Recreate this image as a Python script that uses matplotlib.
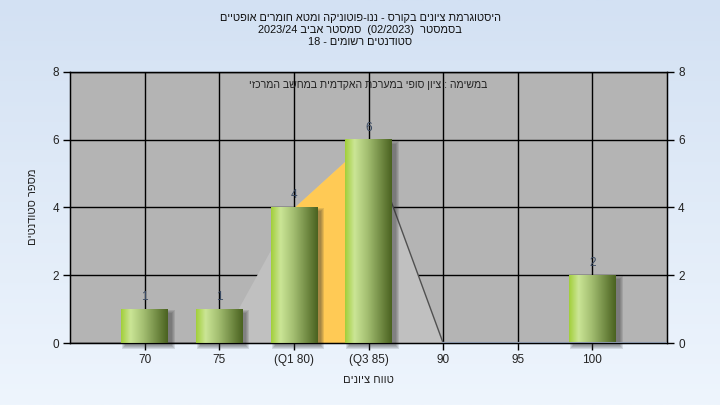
import numpy as np
import matplotlib
matplotlib.use('Agg')
import matplotlib.pyplot as plt
from matplotlib.patches import Rectangle
from matplotlib.colors import LinearSegmentedColormap

# ---------------- data ----------------
categories = ['70', '75', '(Q1 80)', '(Q3 85)', '90', '95', '100']
counts = [1, 1, 4, 6, 0, 0, 2]
# frequency-polygon area drawn behind the bars (nan = not drawn)
area_values = [np.nan, 0, 4, 6, 0, np.nan, np.nan]
q1_index = 2
q3_index = 3
y_ticks = [0, 2, 4, 6, 8]

title_lines = [
    'היסטוגרמת ציונים בקורס - ננו-פוטוניקה ומטא חומרים אופטיים'[::-1],
    '2023/24 ' + 'סמסטר אביב'[::-1] + '  (02/2023)  ' + 'בסמסטר'[::-1],
    '18 - ' + 'סטודנטים רשומים'[::-1],
]
inner_text = 'במשימה : ציון סופי במערכת האקדמית במחשב המרכזי'
y_label = 'מספר סטודנטים'
x_label = 'טווח ציונים'

FAM = ['Liberation Sans', 'DejaVu Sans']
plt.rcParams['font.family'] = FAM

W, H = 720, 405
fig = plt.figure(figsize=(W / 100, H / 100), dpi=100)

# background gradient
bg = fig.add_axes([0, 0, 1, 1], zorder=-10)
grad = np.linspace(0, 1, 256).reshape(-1, 1)
bg_cmap = LinearSegmentedColormap.from_list('bg', ['#d3e1f3', '#eef5fd'])
bg.imshow(grad, aspect='auto', cmap=bg_cmap, extent=[0, 1, 0, 1], origin='upper')
bg.set_axis_off()

ax_l, ax_r, ax_t, ax_b = 70, 667, 72, 343
ax = fig.add_axes([ax_l / W, 1 - ax_b / H, (ax_r - ax_l) / W, (ax_b - ax_t) / H])
ax.set_facecolor('#b4b4b4')
xlim = (-1.0, 7.0)
ylim = (0, 8)

n = len(categories)
xs = np.arange(n)

# area behind bars
av = np.array(area_values, dtype=float)
mask = ~np.isnan(av)
ax.fill_between(xs[mask], 0, av[mask], color='#c0c0c0', zorder=1.2, linewidth=0)
ax.fill_between(xs[q1_index:q3_index + 1], 0, av[q1_index:q3_index + 1],
                color='#ffca55', zorder=1.3, linewidth=0)
idx_peak = int(np.nanargmax(av))
idx_last = int(np.where(mask)[0][-1])
ax.plot([xs[idx_peak], xs[idx_last]], [av[idx_peak], av[idx_last]],
        color='#505050', lw=1.0, zorder=1.4)
ax.plot([xs[idx_last], xlim[1]], [0, 0], color='#8c9aae', lw=1.5, zorder=6, clip_on=False)

# bars with gradient and soft shadow
bw = 0.62
px_x = (xlim[1] - xlim[0]) / (ax_r - ax_l)
px_y = (ylim[1] - ylim[0]) / (ax_b - ax_t)
bar_cmap = LinearSegmentedColormap.from_list(
    'bar', [(0.0, '#a2cf3a'), (0.2, '#cbe596'), (0.5, '#a0bb6e'), (1.0, '#4a6220')])
gx = np.linspace(0, 1, 128).reshape(1, -1)
for x, c in zip(xs, counts):
    if c <= 0:
        continue
    x0 = x - bw / 2
    for k in range(4):
        g = k * 1.0
        r = Rectangle((x0 + (4 - g) * px_x, -(3 + g) * px_y),
                      bw + 2 * g * px_x, c + 2 * g * px_y - 1 * px_y,
                      facecolor='#303030', alpha=0.13, lw=0, zorder=2.5, clip_on=False)
        ax.add_patch(r)
    ax.imshow(gx, cmap=bar_cmap, extent=[x0, x0 + bw, 0, c], aspect='auto', zorder=3,
              interpolation='bilinear')
    ax.text(x, c + 12 * px_y, str(c), ha='center', va='center', fontsize=8.5,
            color='#3a4a62', zorder=5)

ax.set_xlim(*xlim)
ax.set_ylim(*ylim)
ax.set_xticks(xs)
ax.set_xticklabels(categories)
ax.set_yticks(y_ticks)
ax.grid(True, color='black', lw=1)
ax.set_axisbelow(True)
for s in ax.spines.values():
    s.set_color('black')
    s.set_linewidth(1)
ax.tick_params(direction='out', length=5, width=1, colors='black', labelsize=8.5,
               labelcolor='#222222', pad=3)

ax2 = ax.twinx()
ax2.set_ylim(*ylim)
ax2.set_yticks(y_ticks)
ax2.tick_params(direction='out', length=5, width=1, colors='black', labelsize=8.5,
                labelcolor='#222222', pad=3)

ax.text(0.5, 0.952, inner_text[::-1], transform=ax.transAxes, ha='center', va='center',
        fontsize=7.6, color='#222222', zorder=7)

for i, line in enumerate(title_lines):
    fig.text(0.5, 1 - (18 + 12 * i) / H, line, ha='center', va='center',
             fontsize=7.9, color='#111111')

fig.text(33 / W, 1 - 207 / H, y_label[::-1], rotation=90, ha='center', va='center',
         fontsize=8, color='#222222')
fig.text(368 / W, 1 - 380 / H, x_label[::-1], ha='center', va='center',
         fontsize=8, color='#222222')

fig.savefig('out.png', dpi=100)
